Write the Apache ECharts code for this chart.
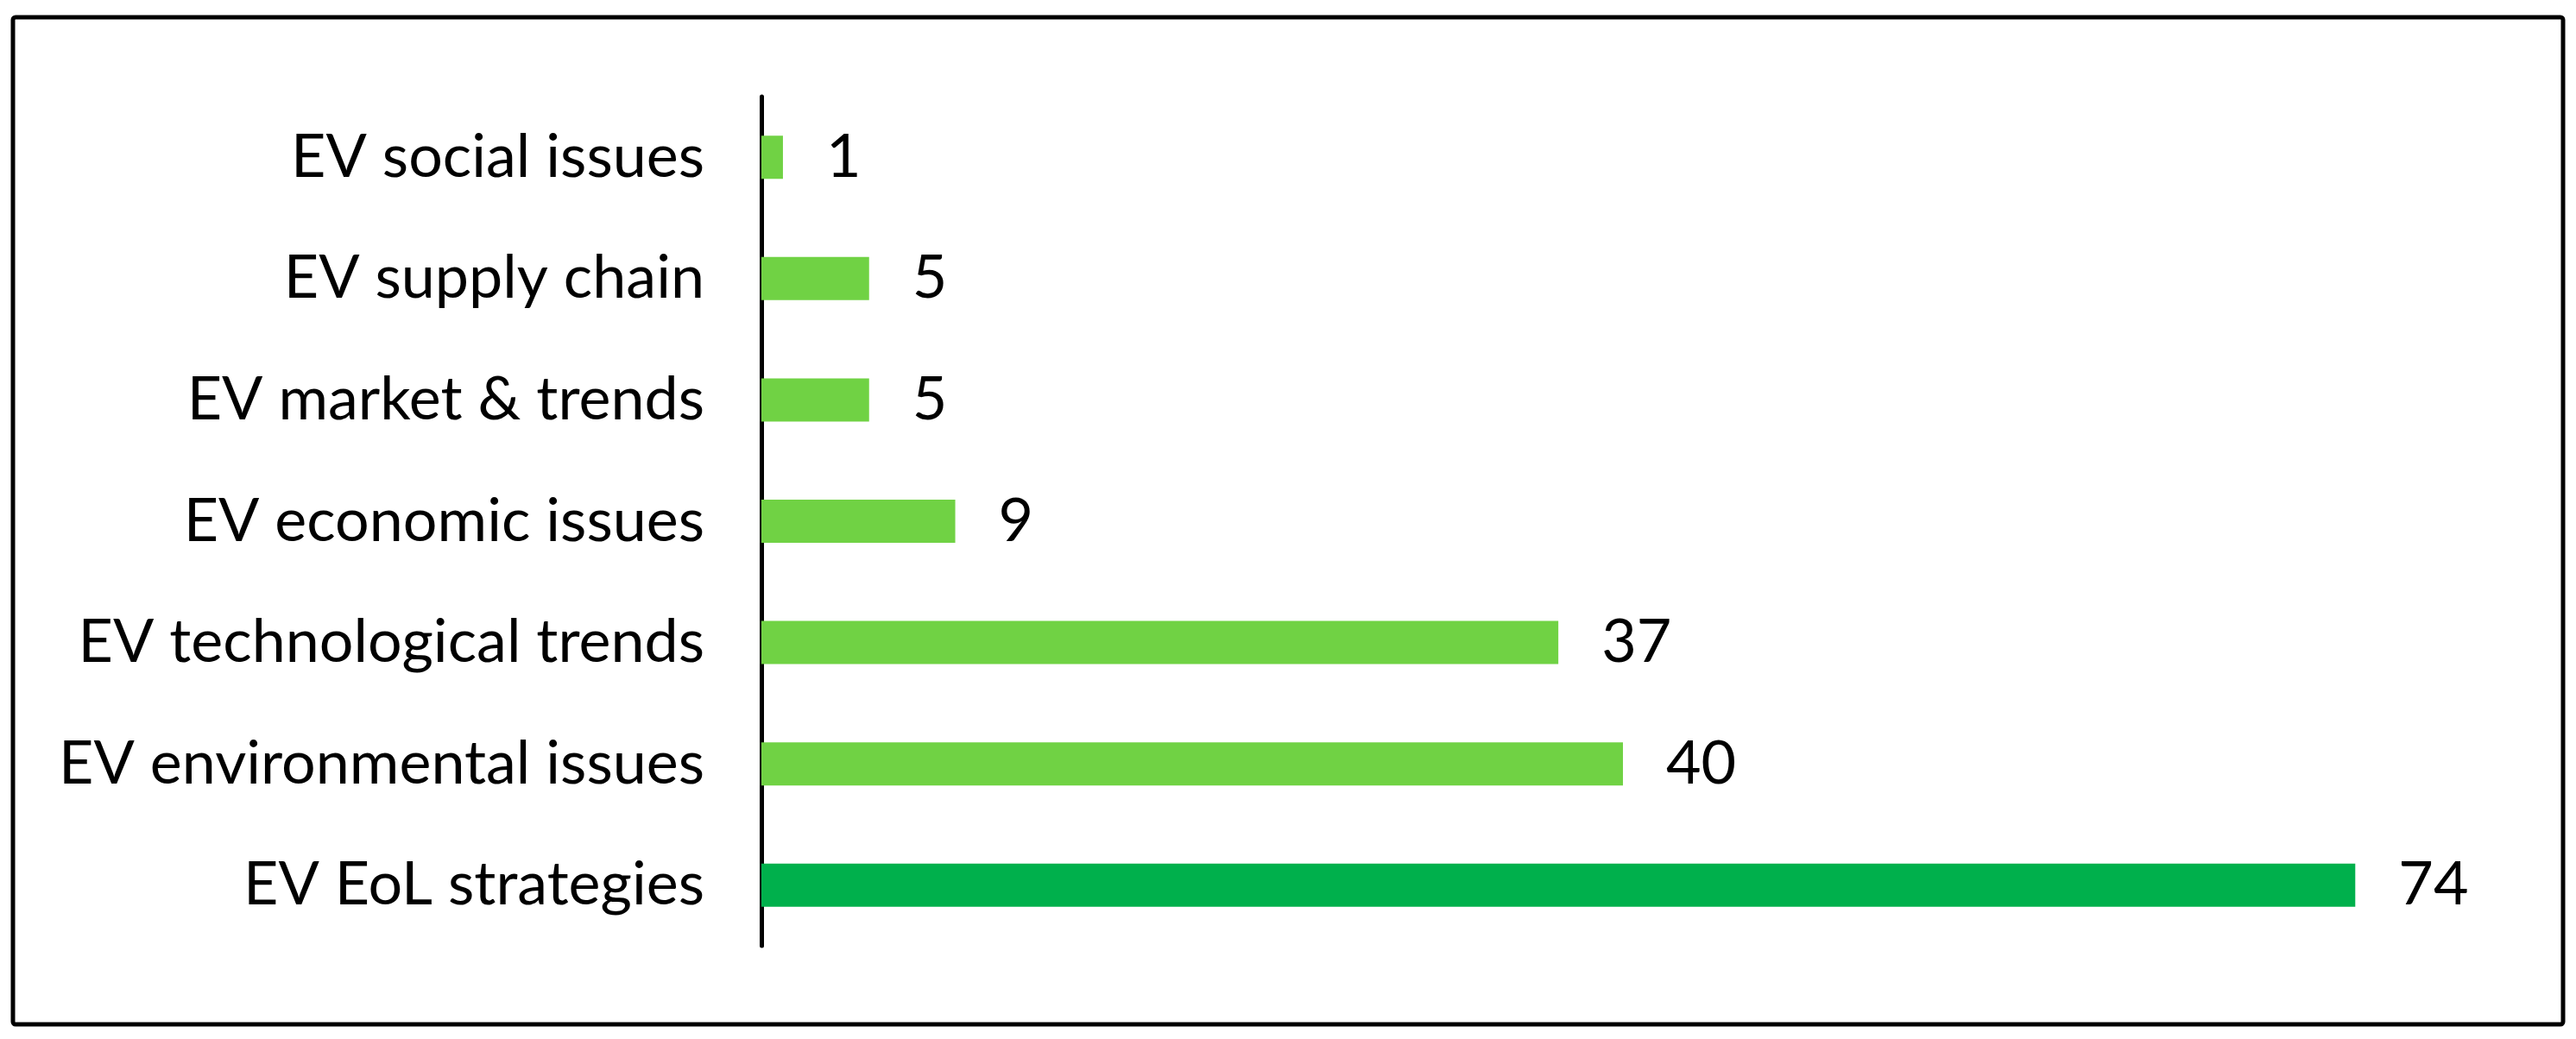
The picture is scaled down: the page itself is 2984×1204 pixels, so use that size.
<!DOCTYPE html>
<html>
	<head>
		<meta charset="UTF-8">
		<title></title>
		<script src="https://cdn.jsdelivr.net/npm/echarts@6/dist/echarts.min.js" type="text/javascript" charset="utf-8"></script>
	</head>
	<body style="margin:0;background:#fff;">
		<div id="chart" style="width: 2984px;height: 1204px;"></div>
		<script type="text/javascript">
			// categories listed bottom to top (category axis starts at the bottom)
			var topics = ['EV EoL strategies', 'EV environmental issues', 'EV technological trends',
				'EV economic issues', 'EV market & trends', 'EV supply chain', 'EV social issues'];
			var counts = [74, 40, 37, 9, 5, 5, 1];

			var darkGreen = '#00B04C';
			var lightGreen = '#70D244';
			var font = 'Lato';

			var chart = echarts.init(document.getElementById('chart'));
			var option = {
				backgroundColor: '#fff',
				animation: false,
				grid: {
					left: 882,
					right: 106,
					top: 112,
					bottom: 108
				},
				xAxis: {
					type: 'value',
					min: 0,
					max: 80,
					show: false
				},
				yAxis: {
					type: 'category',
					data: topics,
					axisLine: {
						show: true,
						lineStyle: { color: '#000', width: 5 }
					},
					axisTick: { show: false },
					axisLabel: {
						margin: 66,
						color: '#000',
						fontFamily: font,
						fontSize: 70
					},
					splitLine: { show: false }
				},
				series: [{
					type: 'bar',
					data: counts,
					barWidth: 50,
					itemStyle: {
						color: function (p) {
							return p.dataIndex === 0 ? darkGreen : lightGreen;
						}
					},
					label: {
						show: true,
						position: 'right',
						distance: 50,
						color: '#000',
						fontFamily: font,
						fontSize: 70
					}
				}],
				graphic: [{
					type: 'rect',
					shape: { x: 15, y: 20, width: 2954, height: 1167, r: 3 },
					style: { fill: 'none', stroke: '#000', lineWidth: 5 },
					silent: true
				}]
			};
			chart.setOption(option);
		</script>
	</body>
</html>
